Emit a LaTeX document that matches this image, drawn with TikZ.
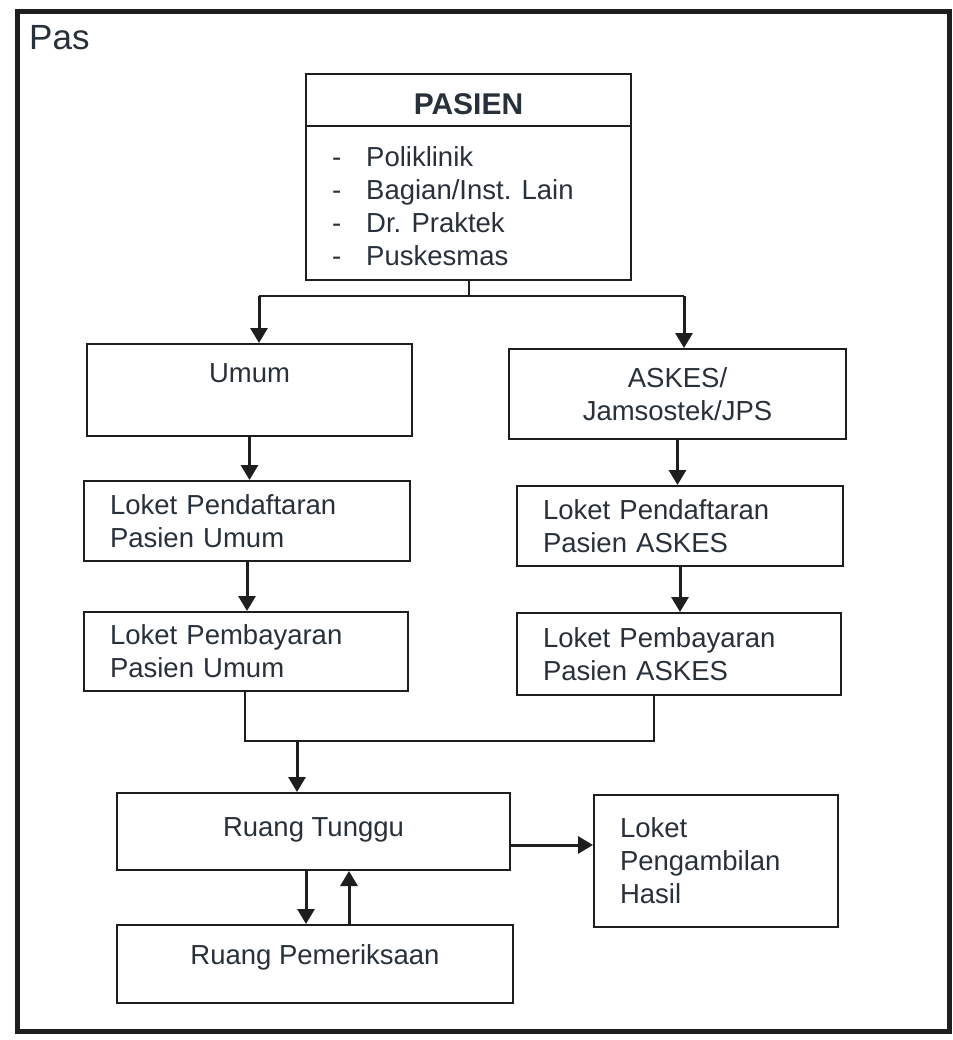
\documentclass[tikz,border=0pt]{standalone}
\usepackage{fontspec}
\setmainfont{Liberation Sans}
\usetikzlibrary{arrows.meta,calc}
\definecolor{ink}{RGB}{30,30,30}
\definecolor{txt}{RGB}{40,48,58}
\begin{document}
\begin{tikzpicture}[x=1pt,y=-1pt,
  box/.style={draw=ink, line width=2pt, inner sep=0pt, text=txt,
    font=\fontsize{27.5}{33}\selectfont, align=center},
  lbox/.style={box, inner xsep=26pt, align=left},
  wire/.style={draw=ink, line width=2pt},
  arr/.style={draw=ink, line width=3pt, -{Triangle[width=17pt,length=15pt]}},
  plain/.style={text=txt, inner sep=0pt}]
\useasboundingbox (0,0) rectangle (952,1040);

% outer frame and title
\draw[ink, line width=5pt] (17,12) rectangle (949,1031);
\node[plain, anchor=base west, font=\fontsize{35}{40}\selectfont] (pas) at (29,50) {Pas};

% patient sources
\node[box, minimum width=325pt, minimum height=206pt] (pasien) at (468.5,177) {};
\node[plain, anchor=base, font=\fontsize{30}{36}\selectfont\bfseries] (pasienhead) at (468.5,115) {PASIEN};
\draw[wire] (pasien.west |- 0,126) -- (pasien.east |- 0,126);
\node[plain, anchor=west, align=left, font=\fontsize{27.5}{33}\selectfont] (pasienlist) at (332,206)
  {\makebox[34pt][l]{-}Poliklinik\\\makebox[34pt][l]{-}Bagian/Inst. Lain\\\makebox[34pt][l]{-}Dr. Praktek\\\makebox[34pt][l]{-}Puskesmas};

% payment groups
\node[box, minimum width=325pt, minimum height=92pt] (umum) at (249.5,390) {Umum\\\mbox{}};
\node[box, minimum width=337pt, minimum height=90pt] (askes) at (677.5,394) {ASKES/\\Jamsostek/JPS};

% counters
\node[lbox, text width=274pt, minimum height=80pt] (lpu) at (247,521) {Loket Pendaftaran\\Pasien Umum};
\node[lbox, text width=274pt, minimum height=80pt] (lpa) at (680,526) {Loket Pendaftaran\\Pasien ASKES};
\node[lbox, text width=272pt, minimum height=79pt] (lbu) at (246,651.5) {Loket Pembayaran\\Pasien Umum};
\node[lbox, text width=272pt, minimum height=82pt] (lba) at (679,654) {Loket Pembayaran\\Pasien ASKES};

% rooms
\node[box, minimum width=393pt, minimum height=77pt, text height=21pt, text depth=12pt] (tunggu) at (313.5,831.5) {Ruang Tunggu};
\node[lbox, text width=192pt, minimum height=132pt] (hasil) at (716,861) {Loket\\Pengambilan\\Hasil};
\node[box, minimum width=396pt, minimum height=78pt, text height=21pt, text depth=20pt] (periksa) at (315,964) {Ruang Pemeriksaan};

% connectors
\coordinate (busl) at (259,296);
\coordinate (busr) at (684,296);
\draw[wire] (pasien.south) -- (pasien.south |- busl);
\draw[wire] (busl) -- (busr);
\draw[arr] (busl) -- (busl |- umum.north);
\draw[arr] (busr) -- (busr |- askes.north);

\draw[arr] (umum.south) -- (umum.south |- lpu.north);
\draw[arr] (askes.south) -- (askes.south |- lpa.north);
\draw[arr] (lpu.south) -- (lpu.south |- lbu.north);
\draw[arr] (lpa.south) -- (lpa.south |- lba.north);

\coordinate (mL) at (245,741);
\coordinate (mR) at (654,741);
\coordinate (merge) at (297,741);
\draw[wire] (mL |- lbu.south) -- (mL) -- (mR) -- (mR |- lba.south);
\draw[arr] (merge) -- (merge |- tunggu.north);

\coordinate (side) at (0,845);
\draw[arr] (tunggu.east |- side) -- (hasil.west |- side);

\coordinate (down) at (306,0);
\coordinate (up) at (349,0);
\draw[arr] (down |- tunggu.south) -- (down |- periksa.north);
\draw[arr] (up |- periksa.north) -- (up |- tunggu.south);
\end{tikzpicture}
\end{document}
